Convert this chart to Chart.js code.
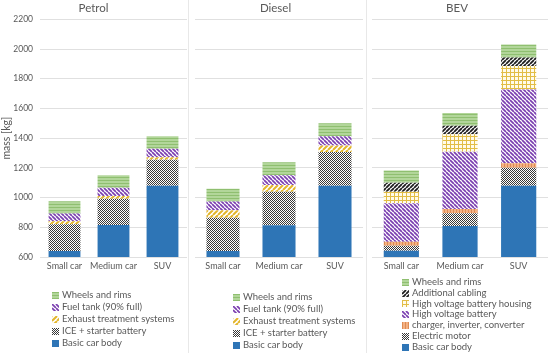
<!DOCTYPE html>
<html>
<head>
<meta charset="utf-8">
<script src="https://cdn.jsdelivr.net/npm/chart.js@4.4.1/dist/chart.umd.min.js"></script>
<style>
  body { margin:0; background:#fff; width:550px; height:356px; overflow:hidden; position:relative; font-family:Lato, sans-serif; }
  .panel { position:absolute; top:0; }
  .sep { position:absolute; top:0; width:1px; height:353px; background:#e8e8e8; }
  .legend { position:absolute; font-size:9.5px; color:#595959; }
  .legend div { display:flex; align-items:center; white-space:nowrap; }
  .legend canvas { margin-right:3px; }
</style>
</head>
<body>
<canvas class="panel" id="petrol" width="188" height="356" style="left:0"></canvas>
<canvas class="panel" id="diesel" width="178" height="356" style="left:188px"></canvas>
<canvas class="panel" id="bev" width="184" height="356" style="left:366px"></canvas>
<div class="sep" style="left:188px"></div>
<div class="sep" style="left:366px"></div>
<div class="legend" id="petrolLegend" style="left:52px;top:289px;line-height:12px"></div>
<div class="legend" id="dieselLegend" style="left:233px;top:291px;line-height:12px"></div>
<div class="legend" id="bevLegend" style="left:402px;top:277px;line-height:10.8px"></div>

<script>
const categories = ['Small car', 'Medium car', 'SUV'];
const yMin = 600, yMax = 2200, yStep = 200;

// Petrol
const petrolBody    = [640, 815, 1080];
const petrolIce     = [180, 177, 175];
const petrolExhaust = [20, 18, 17];
const petrolFuel    = [52, 56, 57];
const petrolWheels  = [84, 85, 84];

// Diesel
const dieselBody    = [640, 813, 1080];
const dieselIce     = [225, 226, 226];
const dieselExhaust = [49, 45, 45];
const dieselFuel    = [60, 67, 62];
const dieselWheels  = [86, 86, 88];

// BEV
const bevBody    = [642, 808, 1080];
const bevMotor   = [34, 86, 121];
const bevCharger = [27, 29, 30];
const bevBattery = [258, 385, 497];
const bevHousing = [78, 119, 157];
const bevCabling = [60, 56, 58];
const bevWheels  = [84, 87, 88];

const FONT = 'Lato, sans-serif';
const GREY = '#595959';

function makePattern(w, h, draw) {
  const c = document.createElement('canvas');
  c.width = w; c.height = h;
  const g = c.getContext('2d');
  draw(g, w, h);
  return g.createPattern(c, 'repeat');
}

function diag(bg, fg, s, lw, up) {
  return makePattern(s, s, (g) => {
    g.fillStyle = bg; g.fillRect(0, 0, s, s);
    g.strokeStyle = fg; g.lineWidth = lw;
    g.beginPath();
    for (const k of [-s, 0, s]) {
      if (up) { g.moveTo(k, s); g.lineTo(k + s, 0); }
      else { g.moveTo(k, 0); g.lineTo(k + s, s); }
    }
    g.stroke();
  });
}

const blue = '#2e75b6';
const checker = makePattern(2, 2, (g) => {
  g.fillStyle = '#ffffff'; g.fillRect(0, 0, 2, 2);
  g.fillStyle = '#383838'; g.fillRect(0, 0, 1, 1); g.fillRect(1, 1, 1, 1);
});
const goldStripes = diag('#ffffff', '#e3b62c', 5, 2, true);
const purpleStripes = diag('#ffffff', '#7b3fb0', 4, 1.7, false);
const blackStripes = diag('#ffffff', '#1e1e1e', 4, 1.8, true);
const greenLines = makePattern(3, 3, (g) => {
  g.fillStyle = '#b2d69a'; g.fillRect(0, 0, 3, 3);
  g.fillStyle = '#8fbf70'; g.fillRect(0, 0, 3, 1);
});
const goldGrid = makePattern(4, 4, (g) => {
  g.fillStyle = '#fffbea'; g.fillRect(0, 0, 4, 4);
  g.fillStyle = '#e2bd45'; g.fillRect(0, 0, 4, 1); g.fillRect(0, 0, 1, 4);
});
const orangeLines = makePattern(3, 3, (g) => {
  g.fillStyle = '#f4b183'; g.fillRect(0, 0, 3, 3);
  g.fillStyle = '#dd8c55'; g.fillRect(0, 0, 1, 3);
});

function ds(label, data, bg) {
  return { label, data, backgroundColor: bg, borderWidth: 0 };
}

function buildLegend(chart, id) {
  const items = Chart.defaults.plugins.legend.labels.generateLabels(chart).reverse();
  const box = document.getElementById(id);
  items.forEach((it) => {
    const row = document.createElement('div');
    const sw = document.createElement('canvas');
    sw.width = 7; sw.height = 7;
    const g = sw.getContext('2d');
    g.fillStyle = it.fillStyle;
    g.fillRect(0, 0, 7, 7);
    row.appendChild(sw);
    const t = document.createElement('span');
    t.textContent = it.text;
    row.appendChild(t);
    box.appendChild(row);
  });
}

function makeChart(id, title, datasets, yWidth, rightPad, barPct, showAxis) {
  const chart = new Chart(document.getElementById(id), {
    type: 'bar',
    data: { labels: categories, datasets },
    options: {
      responsive: false,
      animation: false,
      layout: { padding: { right: rightPad, top: 0, bottom: 0, left: 0 } },
      datasets: { bar: { categoryPercentage: 1, barPercentage: barPct } },
      plugins: {
        legend: { display: false },
        tooltip: { enabled: false },
        title: {
          display: true, text: title, color: GREY,
          font: { family: FONT, size: 11.5, weight: 'normal' },
          padding: { top: 1, bottom: 4.5 }
        }
      },
      scales: {
        x: {
          stacked: true,
          grid: { display: false, drawTicks: false },
          border: { display: false },
          ticks: {
            color: GREY, font: { family: FONT, size: 9 }, padding: 4,
            autoSkip: false, maxRotation: 0, minRotation: 0
          },
          afterFit(s) { s.height = 99; }
        },
        y: {
          stacked: true,
          min: yMin, max: yMax,
          grid: { color: '#e0e0e0', drawTicks: false },
          border: { display: false },
          ticks: {
            display: showAxis, stepSize: yStep, color: GREY,
            font: { family: FONT, size: 8.5 }, padding: 7,
            callback: (v) => String(v)
          },
          title: { display: showAxis, text: 'mass [kg]', color: GREY, font: { family: FONT, size: 10.5 }, padding: 0 },
          afterFit(s) { s.width = yWidth; }
        }
      }
    }
  });
  return chart;
}

const petrol = makeChart('petrol', 'Petrol', [
  ds('Basic car body', petrolBody, blue),
  ds('ICE + starter battery', petrolIce, checker),
  ds('Exhaust treatment systems', petrolExhaust, goldStripes),
  ds('Fuel tank (90% full)', petrolFuel, purpleStripes),
  ds('Wheels and rims', petrolWheels, greenLines)
], 40, 1, 0.65, true);
buildLegend(petrol, 'petrolLegend');

const diesel = makeChart('diesel', 'Diesel', [
  ds('Basic car body', dieselBody, blue),
  ds('ICE + starter battery', dieselIce, checker),
  ds('Exhaust treatment systems', dieselExhaust, goldStripes),
  ds('Fuel tank (90% full)', dieselFuel, purpleStripes),
  ds('Wheels and rims', dieselWheels, greenLines)
], 7, 3, 0.59, false);
buildLegend(diesel, 'dieselLegend');

const bev = makeChart('bev', 'BEV', [
  ds('Basic car body', bevBody, blue),
  ds('Electric motor', bevMotor, checker),
  ds('charger, inverter, converter', bevCharger, orangeLines),
  ds('High voltage battery', bevBattery, purpleStripes),
  ds('High voltage battery housing', bevHousing, goldGrid),
  ds('Additional cabling', bevCabling, blackStripes),
  ds('Wheels and rims', bevWheels, greenLines)
], 6, 2, 0.6, false);
buildLegend(bev, 'bevLegend');
</script>
</body>
</html>
